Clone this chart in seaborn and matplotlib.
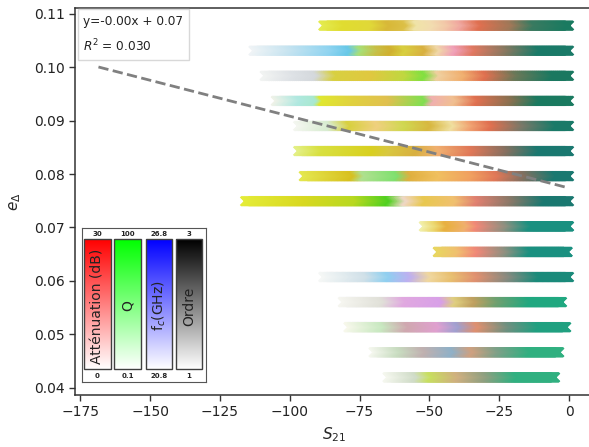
import numpy as np
import pandas as pd
import matplotlib
matplotlib.use("Agg")
import matplotlib.pyplot as plt
import seaborn as sns
from matplotlib.colors import LinearSegmentedColormap
from matplotlib.patches import Rectangle

sns.set_style("ticks")
plt.rcParams["font.family"] = ["DejaVu Sans"]

# ---------------- data ----------------
e_delta = [0.1078, 0.1031, 0.0984, 0.0937, 0.0890, 0.0843, 0.0796, 0.0749,
           0.0702, 0.0654, 0.0607, 0.0560, 0.0513, 0.0466, 0.0419]
s21_start = [-88, -113, -109, -105, -97, -97, -95, -116,
             -52, -47, -88, -81, -79, -70, -65]
s21_end = [0, 0, 0, 0, 0, 0, 0, 0,
           0, -0.5, 0, -2.5, -1, -3.5, -5]

stop_x = [
    [-88, -80, -70, -64, -58, -54, -48, -43, -38, -31, -20, -12, 0],
    [-113, -100, -85, -78, -74, -68, -63, -58, -51, -46, -40, -33, -22, -10, 0],
    [-109, -97, -90, -83, -70, -58, -51, -46, -37, -29, -18, -5, 0],
    [-105, -96, -90, -88, -76, -64, -51, -48, -40, -32, -20, -10, 0],
    [-97, -85, -78, -68, -58, -49, -41, -34, -27, -16, -4, 0],
    [-97, -88, -70, -64, -54, -46, -34, -22, -10, 0],
    [-95, -77, -73, -61, -56, -46, -34, -25, -16, -4, 0],
    [-116, -94, -76, -64, -58, -51, -40, -32, -20, -8, 0],
    [-52, -47, -43, -36, -32, -22, -13, 0],
    [-47, -39, -32, -22, -13, -0.5],
    [-88, -72, -64, -56, -49, -41, -32, -21, -10, 0],
    [-81, -66, -58, -45, -40, -33, -25, -13, -2.5],
    [-79, -66, -57, -46, -39, -32, -21, -10, -1],
    [-70, -60, -51, -41, -34, -25, -13, -3.5],
    [-65, -54, -49, -39, -29, -18, -5],
]
stop_colors = [
    ["#e4ec50", "#e0dc30", "#e0d838", "#d8b838", "#dcc048", "#f0e4a8", "#f2dcb0",
     "#f2c8a8", "#f0a8a0", "#e07050", "#a07858", "#3a7a60", "#1a7a60"],
    ["#f0f4f6", "#c8e4f0", "#90d4f0", "#68c8e8", "#a8e078", "#c8c048", "#d0b030",
     "#d8d040", "#d8b040", "#f0d8a8", "#f0a0b8", "#e07860", "#8a7860", "#1a7a68", "#1a7a68"],
    ["#f2f4f2", "#dce0e4", "#d4d8dc", "#d8d040", "#e0c840", "#c0d840", "#80e040",
     "#f0d0a0", "#f0b070", "#e07050", "#6a7858", "#1a7860", "#1a7860"],
    ["#f0f2e8", "#b0e8e0", "#a8e8d0", "#e0e830", "#e0d040", "#e0c050", "#80e050",
     "#f0b0b0", "#f0c090", "#e07050", "#8a7050", "#1a7a60", "#1a7a60"],
    ["#f4f6f0", "#d8ecd0", "#d8d040", "#f0d080", "#d0d850", "#d8b840", "#f0e0a0",
     "#f0a070", "#e07050", "#7a7868", "#1a7a68", "#1a7a68"],
    ["#e4f088", "#d8e040", "#d8d020", "#d8c840", "#d8b040", "#f0b070", "#e07858",
     "#8a7060", "#1a7870", "#1a7870"],
    ["#e4e850", "#d8c020", "#b0e090", "#80e070", "#e0b040", "#f0c060", "#f0a060",
     "#e07858", "#8a7060", "#1a7870", "#1a7870"],
    ["#e4ec38", "#d8d820", "#b8d820", "#50d020", "#f0d8c8", "#e8c850", "#f0c070",
     "#e08070", "#8a7868", "#1a7870", "#1a7870"],
    ["#f2f2b0", "#ecd870", "#e8b040", "#f0b070", "#f08878", "#909080", "#1a9080", "#1a9080"],
    ["#e8d860", "#f0c070", "#f08878", "#909080", "#1a9080", "#1a9080"],
    ["#f6f8f6", "#d0e0e8", "#90d0f0", "#c0b0f0", "#f0d8a0", "#e8c070", "#e09070",
     "#888a80", "#1a8a7a", "#1a8a7a"],
    ["#f6f6f0", "#e0e0d8", "#e0a8e0", "#d8a0e8", "#e0d080", "#c0a060", "#70a070",
     "#20a880", "#20a880"],
    ["#f8f8ec", "#c8e8c0", "#d0a8b0", "#e0a0d0", "#a0a0d0", "#e09070", "#709080",
     "#20a080", "#20a080"],
    ["#f6f8f0", "#c8dcc0", "#c0b0b0", "#90b0c8", "#d0a080", "#80a088", "#30b080", "#30b080"],
    ["#f6f8f0", "#d0dcc8", "#c8e060", "#d0b080", "#90a080", "#30b080", "#30b080"],
]

reg_x = [-168.5, -1.0]
reg_slope = -0.0001346
reg_intercept = 0.07737
reg_text = "y=-0.00x + 0.07\n$R^2$ = 0.030"

cb_names = ["Atténuation (dB)", "Q", "f$_c$(GHz)", "Ordre"]
cb_top = ["30", "100", "26.8", "3"]
cb_bottom = ["0", "0.1", "20.8", "1"]
cb_colors = ["#ff0000", "#00ff00", "#0000ff", "#000000"]

# ---------------- figure ----------------
fig = plt.figure(figsize=(5.89, 4.47), dpi=100)
ax = fig.add_axes([75 / 589, 1 - 395 / 447, 517.5 / 589, 387 / 447])

for i, ed in enumerate(e_delta):
    x0, x1 = s21_start[i], s21_end[i]
    xs = np.linspace(x0, x1, 450)
    pos = [(x - x0) / (x1 - x0) for x in stop_x[i]]
    cmap = LinearSegmentedColormap.from_list(f"row{i}", list(zip(pos, stop_colors[i])))
    df = pd.DataFrame({"S21": xs, "e": np.full_like(xs, ed)})
    sns.scatterplot(data=df, x="S21", y="e", hue="S21", palette=cmap,
                    hue_norm=(x0, x1), marker="x", s=42, linewidth=1.5,
                    legend=False, ax=ax, zorder=2)

reg_y = [reg_slope * x + reg_intercept for x in reg_x]
sns.lineplot(x=reg_x, y=reg_y, color="#808080", linestyle="--", linewidth=2,
             ax=ax, zorder=5)

ax.set_xlim(-176.9, 8.4)
ax.set_ylim(0.0386, 0.1111)
ax.set_yticks([0.04, 0.05, 0.06, 0.07, 0.08, 0.09, 0.10, 0.11])
ax.set_xticks([-175, -150, -125, -100, -75, -50, -25, 0])
ax.set_xlabel("$S_{21}$", fontsize=11)
ax.set_ylabel("$e_\\Delta$", fontsize=11, labelpad=8)
ax.tick_params(labelsize=10, length=4, width=1, color="#333333", labelcolor="#222222")
for s in ax.spines.values():
    s.set_color("#333333")
    s.set_linewidth(1.1)

ax.text(0.016, 0.983, reg_text, transform=ax.transAxes, ha="left", va="top",
        fontsize=8.7, linespacing=1.75, color="#222222",
        bbox=dict(boxstyle="square,pad=0.45", fc="white", ec="#d8d8d8", lw=1),
        zorder=6)

# ---------------- inset colour bars ----------------
iax = fig.add_axes([82 / 589, 1 - 382 / 447, 124 / 589, 154 / 447])
iax.set_zorder(10)
bar_x = [(2, 29), (32, 59), (64, 90), (94, 120)]
grad = np.linspace(0, 1, 256).reshape(-1, 1)
for j, (bx0, bx1) in enumerate(bar_x):
    cm = LinearSegmentedColormap.from_list(f"cb{j}", ["#ffffff", cb_colors[j]])
    iax.imshow(grad, extent=[bx0, bx1, 13, 143], origin="lower", cmap=cm,
               aspect="auto")
    iax.add_patch(Rectangle((bx0, 13), bx1 - bx0, 130, fill=False,
                            ec="#404040", lw=1))
    xc = (bx0 + bx1) / 2
    iax.text(xc, 148.5, cb_top[j], ha="center", va="center", fontsize=5,
             fontweight="bold", color="#222222")
    iax.text(xc, 6, cb_bottom[j], ha="center", va="center", fontsize=5,
             fontweight="bold", color="#222222")
    iax.text(xc, 76, cb_names[j], rotation=90, ha="center", va="center",
             fontsize=10, color="#222222")
iax.set_xlim(0, 124)
iax.set_ylim(0, 154)
iax.set_xticks([])
iax.set_yticks([])
iax.set_facecolor("white")
for s in iax.spines.values():
    s.set_linestyle((0, (2, 1)))
    s.set_linewidth(0.8)
    s.set_edgecolor("#555555")

fig.savefig("out.png", dpi=100)
